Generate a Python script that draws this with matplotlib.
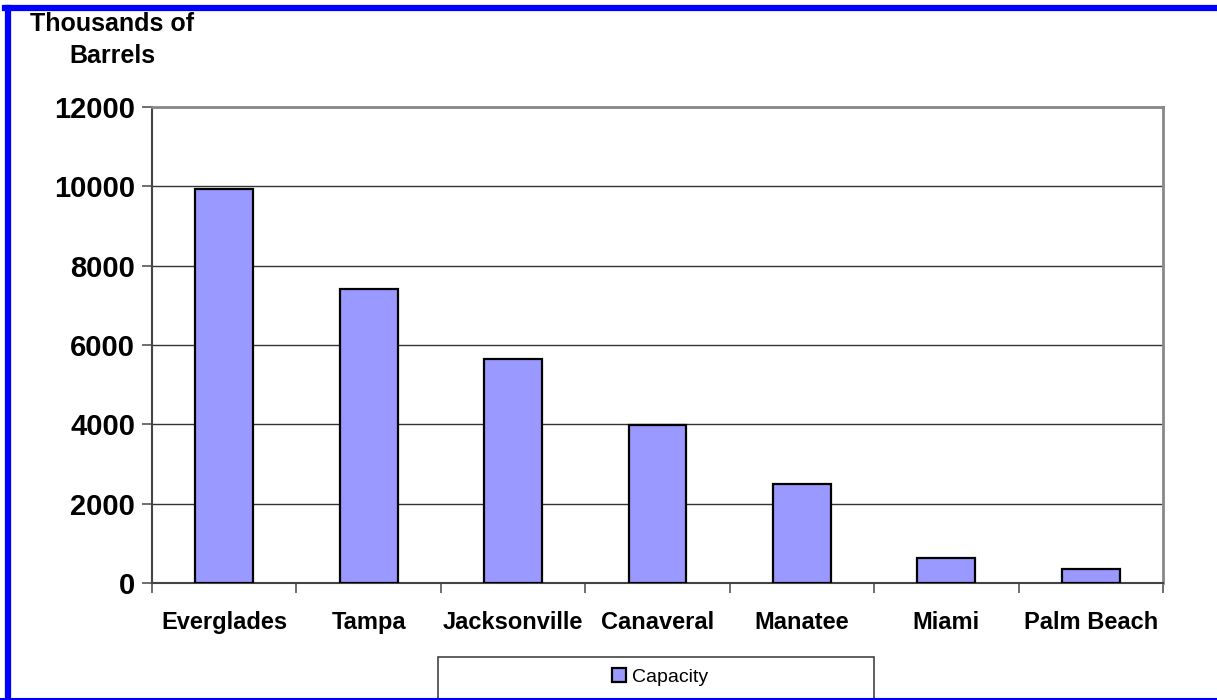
import numpy as np
import matplotlib
matplotlib.use("Agg")
import matplotlib.pyplot as plt
from matplotlib.patches import Rectangle
from matplotlib.lines import Line2D

# data (thousands of barrels)
ports = ["Everglades", "Tampa", "Jacksonville", "Canaveral", "Manatee", "Miami", "Palm Beach"]
capacity = [9930, 7400, 5640, 3990, 2500, 640, 345]
yticks = [0, 2000, 4000, 6000, 8000, 10000, 12000]

plt.rcParams['font.family'] = ['Liberation Sans', 'DejaVu Sans']

W, H = 1217, 700
fig = plt.figure(figsize=(W / 100, H / 100), dpi=100)
ax = fig.add_axes([152 / W, 1 - 583 / H, (1163 - 152) / W, (583 - 107) / H])

x = np.arange(len(ports))
ax.bar(x, capacity, width=0.4, color="#9999FF", edgecolor="black", linewidth=1.6,
       label="Capacity", zorder=3)

ax.set_xlim(-0.5, len(ports) - 0.5)
ax.set_ylim(0, 12000)
ax.set_yticks(yticks)
ax.set_yticklabels([str(v) for v in yticks], fontsize=21, fontweight="bold")
ax.yaxis.grid(True, color="#333333", linewidth=1, zorder=0)

# category boundaries as ticks, names in the middle
ax.set_xticks(np.arange(len(ports) + 1) - 0.5)
ax.set_xticklabels([])
ax.set_xticks(x, minor=True)
ax.set_xticklabels(ports, minor=True, fontsize=17, fontweight="bold")
ax.tick_params(axis="x", which="minor", length=0, pad=20)
ax.tick_params(axis="x", which="major", length=7, width=1.2, color="#555555")
ax.tick_params(axis="y", length=7, width=1.2, color="#555555", pad=5)

for s in ["top", "right"]:
    ax.spines[s].set_color("#888888")
    ax.spines[s].set_linewidth(2)
for s in ["left", "bottom"]:
    ax.spines[s].set_color("#444444")
    ax.spines[s].set_linewidth(1.5)

fig.text(112 / W, 1 - 24 / H, "Thousands of", fontsize=18, fontweight="bold",
         ha="center", va="center")
fig.text(112 / W, 1 - 56 / H, "Barrels", fontsize=18, fontweight="bold",
         ha="center", va="center")

# legend box (runs off the bottom of the picture)
fig.patches.append(Rectangle((438 / W, -0.02), (874 - 438) / W, 0.02 + (700 - 657) / H,
                             transform=fig.transFigure, facecolor="white",
                             edgecolor="#444444", linewidth=1.2, zorder=1))
leg = fig.legend(loc="center", bbox_to_anchor=(660 / W, 1 - 677 / H), frameon=False,
                 fontsize=14, handlelength=0.7, handleheight=0.7, handletextpad=0.3,
                 borderaxespad=0)
leg.set_zorder(2)

# blue frame around the chart
fig.lines.append(Line2D([8 / W, 8 / W], [0, 1 - 8 / H], transform=fig.transFigure,
                        color="#0000FF", linewidth=4.5))
fig.lines.append(Line2D([5 / W, 1], [1 - 8 / H, 1 - 8 / H], transform=fig.transFigure,
                        color="#0000FF", linewidth=4.5))
fig.lines.append(Line2D([0, 1], [1.5 / H, 1.5 / H], transform=fig.transFigure,
                        color="#0000FF", linewidth=1.5))

fig.savefig("out.png", dpi=100)
